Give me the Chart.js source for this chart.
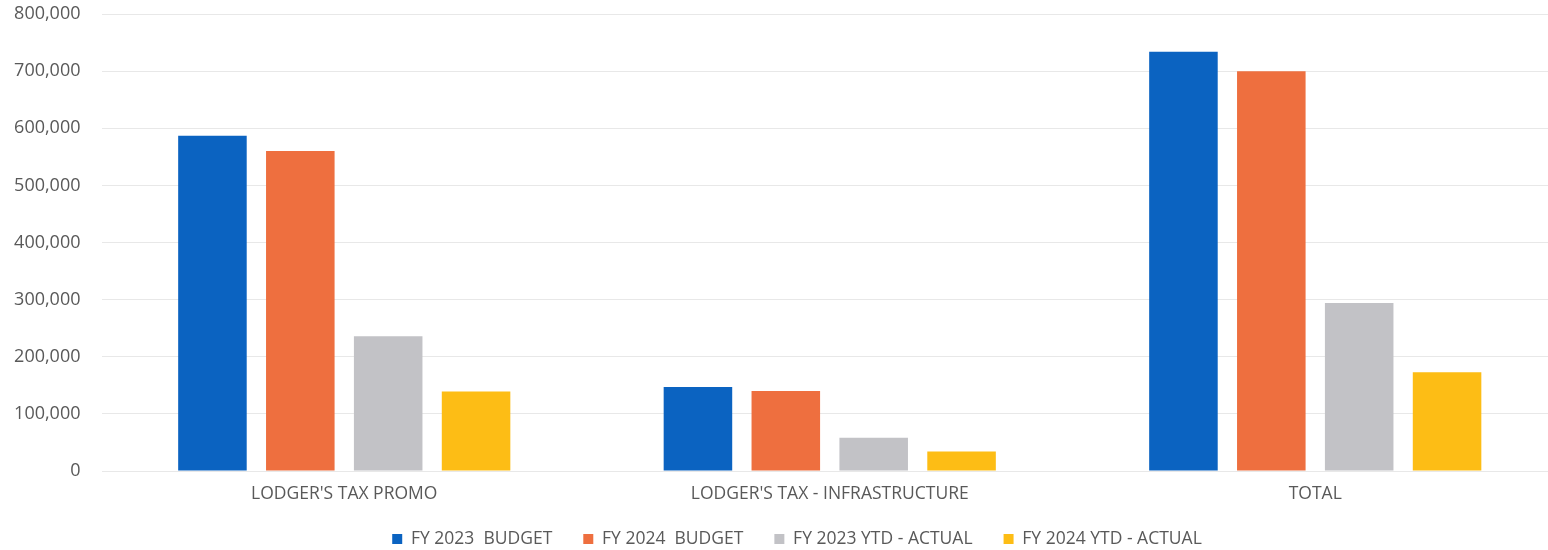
<!DOCTYPE html>
<html>
<head>
<meta charset="utf-8">
<script src="https://cdn.jsdelivr.net/npm/chart.js@4"></script>
<style>
  html, body { margin: 0; padding: 0; background: #fff; overflow: hidden; }
  #wrap { width: 1548px; height: 550px; overflow: hidden; }
</style>
</head>
<body>
<div id="wrap"><canvas id="lodgers_chart"></canvas></div>
<script>
// Categories and series values
var categories = ["LODGER'S TAX PROMO", "LODGER'S TAX - INFRASTRUCTURE", 'TOTAL'];
var seriesNames = ['FY 2023  BUDGET', 'FY 2024  BUDGET', 'FY 2023 YTD - ACTUAL', 'FY 2024 YTD - ACTUAL'];
var fy2023Budget = [587000, 147000, 734000];
var fy2024Budget = [560000, 140000, 700000];
var fy2023Actual = [236000, 58000, 294000];
var fy2024Actual = [139000, 34000, 173000];
var yTicks = [0, 100000, 200000, 300000, 400000, 500000, 600000, 700000, 800000];

var colors = ['#0b63c1', '#ee6f3f', '#c2c2c6', '#fdbd15'];
var values = [fy2023Budget, fy2024Budget, fy2023Actual, fy2024Actual];

var textColor = '#595959';
var fontFamily = '"Open Sans", "Noto Sans", sans-serif';

var data = {
  labels: categories,
  datasets: seriesNames.map(function(name, i) {
    return {
      label: name,
      data: values[i],
      backgroundColor: colors[i],
      borderWidth: 0,
      categoryPercentage: 0.724,
      barPercentage: 0.78
    };
  })
};

// nudge the legend row a bit to the right of centre
var legendShift = {
  id: 'legendShift',
  afterLayout: function(chart) {
    chart.legend.left += 36;
  }
};

var options = {
  responsive: false,
  animation: false,
  layout: { padding: { top: 0, right: 0, bottom: -7.75, left: 0 } },
  plugins: {
    tooltip: { enabled: false },
    legend: {
      position: 'bottom',
      labels: {
        color: textColor,
        font: { family: fontFamily, size: 17.5 },
        boxWidth: 10,
        boxHeight: 10,
        padding: 31
      }
    }
  },
  scales: {
    x: {
      grid: { display: false, drawTicks: false },
      border: { display: false },
      afterFit: function(axis) {
        // labels hang a little below the axis box, above the legend items
        axis.height = 28.25;
      },
      ticks: {
        color: textColor,
        font: { family: fontFamily, size: 17.5 },
        padding: 13
      }
    },
    y: {
      min: 0,
      max: 800000,
      afterBuildTicks: function(axis) {
        axis.ticks = yTicks.map(function(v) { return { value: v }; });
      },
      afterFit: function(axis) {
        axis.width = 101.5;
        axis.paddingTop = 14;
        axis.paddingBottom = 0;
      },
      grid: { color: '#e8e8e8', lineWidth: 1, drawTicks: false },
      border: { display: false },
      ticks: {
        color: textColor,
        font: { family: fontFamily, size: 18 },
        padding: 21,
        callback: function(v) { return v.toLocaleString('en-US'); }
      }
    }
  }
};

// plot runs slightly past the right edge of the page
var canvas = document.getElementById('lodgers_chart');
canvas.width = 1558;
canvas.height = 550;
var chart = new Chart(canvas, { type: 'bar', data: data, options: options, plugins: [legendShift] });
</script>
</body>
</html>
